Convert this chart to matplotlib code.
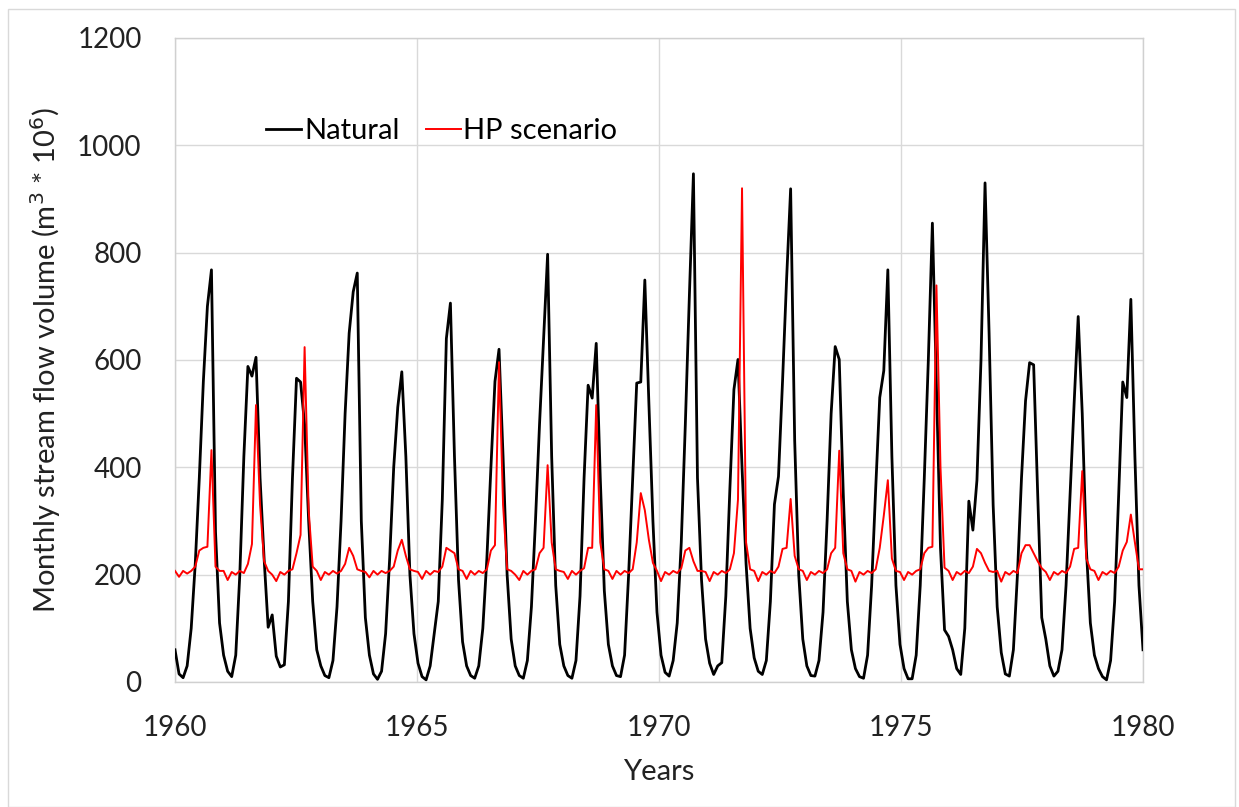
import numpy as np
import matplotlib
matplotlib.use("Agg")
import matplotlib.pyplot as plt

plt.rcParams['font.family'] = ['Lato', 'DejaVu Sans']

# monthly values (Jan..Dec), m3 * 10^6
natural = {
    1960: [60, 15, 8, 30, 100, 220, 380, 560, 700, 768, 280, 110],
    1961: [50, 20, 10, 50, 200, 420, 588, 570, 605, 380, 230, 102],
    1962: [125, 48, 28, 32, 150, 380, 566, 559, 480, 300, 150, 60],
    1963: [30, 12, 8, 40, 140, 300, 500, 650, 727, 762, 300, 120],
    1964: [50, 15, 5, 20, 90, 230, 400, 512, 578, 420, 200, 90],
    1965: [35, 10, 4, 30, 90, 150, 340, 640, 706, 420, 190, 75],
    1966: [30, 12, 7, 30, 100, 230, 400, 560, 620, 420, 200, 80],
    1967: [30, 12, 7, 40, 140, 300, 480, 640, 797, 420, 180, 70],
    1968: [30, 12, 7, 40, 160, 380, 553, 529, 631, 380, 170, 70],
    1969: [30, 12, 10, 50, 200, 380, 557, 559, 749, 520, 300, 130],
    1970: [50, 18, 11, 40, 110, 260, 480, 720, 947, 380, 190, 80],
    1971: [35, 14, 30, 36, 160, 360, 545, 601, 400, 220, 100, 45],
    1972: [20, 14, 40, 150, 331, 383, 560, 750, 919, 450, 200, 80],
    1973: [30, 12, 11, 40, 130, 300, 500, 625, 601, 350, 150, 60],
    1974: [25, 10, 7, 50, 180, 360, 530, 580, 768, 420, 180, 70],
    1975: [25, 6, 6, 50, 180, 380, 600, 855, 550, 250, 97, 85],
    1976: [60, 25, 14, 100, 337, 283, 376, 600, 930, 650, 330, 140],
    1977: [55, 15, 11, 60, 200, 380, 524, 595, 591, 350, 120, 80],
    1978: [30, 11, 20, 60, 180, 350, 520, 681, 500, 250, 110, 50],
    1979: [25, 10, 4, 40, 150, 350, 559, 530, 713, 420, 180, 60],
}

hp_scenario = {
    1960: [207, 196, 207, 202, 207, 215, 245, 250, 252, 432, 215, 207],
    1961: [207, 190, 205, 200, 207, 203, 220, 257, 516, 330, 225, 207],
    1962: [200, 188, 205, 200, 207, 210, 240, 274, 624, 320, 215, 207],
    1963: [190, 205, 200, 207, 202, 207, 220, 250, 235, 210, 207, 205],
    1964: [195, 207, 200, 207, 203, 207, 215, 245, 265, 235, 210, 207],
    1965: [205, 192, 207, 200, 207, 205, 215, 250, 245, 240, 210, 207],
    1966: [192, 207, 200, 207, 203, 210, 245, 255, 596, 330, 210, 207],
    1967: [200, 190, 207, 200, 207, 210, 240, 250, 404, 260, 210, 207],
    1968: [205, 192, 207, 200, 207, 212, 250, 250, 516, 260, 210, 207],
    1969: [192, 207, 200, 207, 203, 210, 260, 352, 320, 265, 222, 207],
    1970: [188, 205, 200, 207, 203, 212, 245, 250, 225, 207, 207, 205],
    1971: [188, 205, 200, 207, 203, 210, 240, 340, 920, 260, 210, 207],
    1972: [188, 205, 200, 207, 203, 215, 248, 250, 341, 235, 210, 207],
    1973: [190, 205, 200, 207, 203, 210, 240, 250, 431, 240, 210, 207],
    1974: [187, 205, 200, 207, 203, 210, 250, 310, 376, 230, 207, 205],
    1975: [190, 205, 200, 207, 210, 240, 250, 252, 739, 400, 213, 207],
    1976: [190, 205, 200, 207, 203, 215, 248, 240, 222, 207, 205, 207],
    1977: [187, 205, 200, 207, 203, 240, 255, 255, 240, 225, 212, 205],
    1978: [190, 205, 200, 207, 203, 215, 248, 250, 393, 230, 210, 207],
    1979: [190, 205, 200, 207, 203, 215, 245, 261, 312, 260, 210, 210],
}

years = sorted(natural.keys())
nat = np.concatenate([natural[y] for y in years])
hp = np.concatenate([hp_scenario[y] for y in years])
t = np.linspace(1960, 1980, len(nat))

fig = plt.figure(figsize=(12.39, 8.07), dpi=100)
ax = fig.add_axes([175 / 1239, 1 - 682 / 807, (1143 - 175) / 1239, (682 - 38) / 807])

ax.plot(t, nat, color='black', lw=2.0, label='Natural', zorder=3,
        solid_joinstyle='round')
ax.plot(t, hp, color='#ff0000', lw=1.4, label='HP scenario', zorder=4)

ax.set_xlim(1960, 1980)
ax.set_ylim(0, 1200)
ax.set_xticks([1960, 1965, 1970, 1975, 1980])
ax.set_yticks(range(0, 1201, 200))
ax.grid(True, color='#d9d9d9', lw=1.0)
ax.set_axisbelow(True)
for s in ax.spines.values():
    s.set_color('#d0d0d0')
    s.set_linewidth(1.0)
ax.tick_params(length=0, labelsize=20, colors='#222222')
ax.tick_params(axis='y', pad=24)
ax.tick_params(axis='x', pad=24)

ax.set_xlabel('Years', fontsize=21, color='#222222', labelpad=13)
ax.set_ylabel('Monthly stream flow volume (m$^3$ * 10$^6$)', fontsize=21,
              color='#222222', labelpad=10)

ax.legend(loc='center left', bbox_to_anchor=(266 / 1239, 1 - 131 / 807),
          bbox_transform=fig.transFigure, ncol=2, frameon=False, fontsize=21,
          handlelength=1.2, handletextpad=0.1, columnspacing=0.9,
          borderaxespad=0, borderpad=0)

# outer chart border
fig.patches.append(plt.Rectangle((8 / 1239, 0), 1227 / 1239, 1 - 9 / 807,
                                 transform=fig.transFigure, fill=False,
                                 ec='#d9d9d9', lw=1.0))

fig.savefig('out.png', dpi=100)
